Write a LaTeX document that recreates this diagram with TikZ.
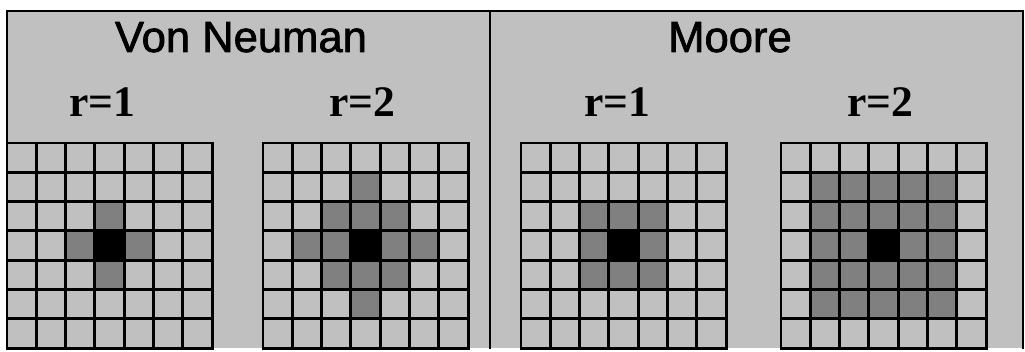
\documentclass[tikz,border=0pt]{standalone}
\usepackage{fontspec}
\newfontfamily\titlefont[FakeBold=1.6]{Liberation Sans}
\newfontfamily\rfont{Liberation Serif}
\definecolor{CAPanel}{HTML}{C0C0C0}
\definecolor{CANear}{HTML}{808080}
\definecolor{CACentre}{HTML}{000000}
\tikzset{
  frame/.style={line width=1.9pt, black, line cap=rect},
  cell/.style={line width=2.1pt, black, line cap=rect},
  title/.style={anchor=base, inner sep=0pt, font=\titlefont\fontsize{31}{31}\selectfont},
  rlabel/.style={anchor=base, inner sep=0pt, font=\rfont\bfseries\fontsize{31}{31}\selectfont},
}
% one 7x7 board: left edge, kind (0 = von Neumann, 1 = Moore), radius
\newcommand{\cagrid}[3]{%
  \foreach \i in {0,...,6}{
    \foreach \j in {0,...,6}{
      \pgfmathtruncatemacro{\dist}{(1-#2)*(abs(\i-3)+abs(\j-3))+#2*max(abs(\i-3),abs(\j-3))}
      \ifnum\dist=0
        \fill[CACentre] (#1+\i*29.3,143+\j*29.3) rectangle ++(29.3,29.3);
      \else\ifnum\dist>#3\else
        \fill[CANear] (#1+\i*29.3,143+\j*29.3) rectangle ++(29.3,29.3);
      \fi\fi
    }
  }
  \foreach \k in {0,...,7}{
    \draw[cell] (#1+\k*29.3,143) -- ++(0,205.1);
    \draw[cell] (#1,143+\k*29.3) -- ++(205.1,0);
  }
}
\begin{document}
\begin{tikzpicture}[x=0.025cm,y=-0.025cm]
\path[use as bounding box] (0,0) rectangle (1025,352);
\fill[CAPanel] (7,11) rectangle (1023,348);
\draw[frame] (7,348) -- (7,11) -- (1023,11) -- (1023,348);
\draw[frame] (490,11) -- (490,348);
% titles
\node[title] (vn) at (241,52) {Von Neuman};
\node[title] (moore) at (730,52) {Moore};
\node[rlabel] (vnone) at (102,117) {r=1};
\node[rlabel] (vntwo) at (362,117) {r=2};
\node[rlabel] (mone) at (617,117) {r=1};
\node[rlabel] (mtwo) at (880,117) {r=2};
% boards
\cagrid{7}{0}{1}
\cagrid{263}{0}{2}
\cagrid{521}{1}{1}
\cagrid{781}{1}{2}
\end{tikzpicture}
\end{document}
